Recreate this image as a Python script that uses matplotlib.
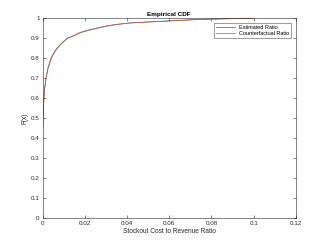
import matplotlib
matplotlib.use("Agg")
from matplotlib import pyplot as plt

# values
est_x = [0, 0, 0.0003, 0.0006, 0.0010, 0.0016, 0.0025, 0.004, 0.0055, 0.0068, 0.009, 0.0116,
         0.015, 0.018, 0.021, 0.025, 0.030, 0.035, 0.041, 0.048, 0.055, 0.062, 0.070, 0.078, 0.086, 0.092, 0.100]
est_y = [0, 0.40, 0.52, 0.60, 0.65, 0.70, 0.75, 0.80, 0.83, 0.85, 0.875, 0.90,
         0.915, 0.93, 0.94, 0.95, 0.962, 0.970, 0.977, 0.981, 0.985, 0.989, 0.993, 0.996, 0.998, 0.9995, 1.0]
cf_x = [0, 0, 0.0003, 0.0007, 0.0011, 0.0017, 0.0027, 0.0042, 0.0057, 0.0070, 0.0092, 0.0118,
        0.0155, 0.0185, 0.022, 0.026, 0.031, 0.036, 0.042, 0.049, 0.057, 0.064, 0.072, 0.080, 0.088, 0.094, 0.100]
cf_y = est_y

plt.rcParams['font.family'] = ['Liberation Sans', 'DejaVu Sans']

fig = plt.figure(figsize=(3.27, 2.45), dpi=100)
ax = fig.add_axes([0.130, 0.110, 0.775, 0.815])

ax.plot(est_x, est_y, color='#0072BD', linewidth=0.5, label='Estimated Ratio')
ax.plot(cf_x, cf_y, color='#D95319', linewidth=0.5, label='Counterfactual Ratio')

ax.set_xlim(0, 0.12)
ax.set_ylim(0, 1)
ax.set_xticks([0, 0.02, 0.04, 0.06, 0.08, 0.1, 0.12])
ax.set_xticklabels(['0', '0.02', '0.04', '0.06', '0.08', '0.1', '0.12'])
ax.set_yticks([i / 10 for i in range(11)])
ax.set_yticklabels(['0', '0.1', '0.2', '0.3', '0.4', '0.5', '0.6', '0.7', '0.8', '0.9', '1'])

ax.tick_params(direction='in', length=2, width=0.4, labelsize=4.5, colors='#262626',
               top=True, right=True, pad=2)
for s in ax.spines.values():
    s.set_linewidth(0.4)
    s.set_color('#262626')

ax.set_title('Empirical CDF', fontsize=4.6, fontweight='bold', pad=2)
ax.set_xlabel('Stockout Cost to Revenue Ratio', fontsize=4.7, labelpad=1.5, color='#262626')
ax.set_ylabel('F(x)', fontsize=4.7, labelpad=1.5, color='#262626')

leg = ax.legend(loc='upper right', fontsize=4.0, frameon=True, fancybox=False,
                edgecolor='#262626', handlelength=3.4, borderpad=0.35, labelspacing=0.25,
                borderaxespad=0.8)
leg.get_frame().set_linewidth(0.4)

fig.savefig('out.png', dpi=100)
